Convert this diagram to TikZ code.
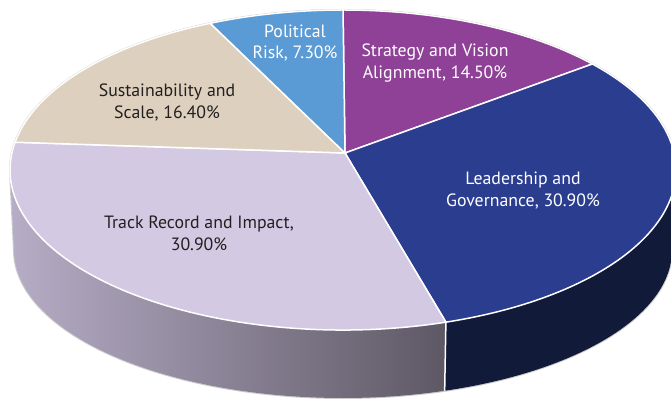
\documentclass[tikz,border=0pt]{standalone}
\usepackage{fontspec}
\setmainfont{PT Sans}
\definecolor{polblue}{RGB}{91,155,213}
\definecolor{stratpurple}{RGB}{142,65,150}
\definecolor{leadblue}{RGB}{43,61,143}
\definecolor{tracklav}{RGB}{211,201,226}
\definecolor{sustan}{RGB}{221,208,190}
\definecolor{navyside}{RGB}{18,26,58}
\definecolor{sidelight}{RGB}{182,173,198}
\definecolor{sidedark}{RGB}{94,88,101}
\definecolor{darktxt}{RGB}{35,31,32}
\tikzset{
  lbl/.style={align=center, font=\fontsize{17.8}{21.5}\selectfont},
  sep/.style={draw=white, line width=1.5pt}
}
\begin{document}
\begin{tikzpicture}[x=1pt,y=1pt]
\useasboundingbox (0,0) rectangle (671,401);
\clip (0,0) rectangle (671,401);
\coordinate (top) at (343,231);
\coordinate (bot) at (343,151);
\coordinate (apex) at (345,248);
% faint outline of the whole cake
\draw[gray!40, line width=2pt] ([shift={(top)}]0:333 and 160) arc[start angle=0, end angle=180, x radius=333, y radius=160]
  -- ([shift={(bot)}]180:329 and 148) arc[start angle=180, end angle=360, x radius=329, y radius=148] -- cycle;
% side walls
\shade[left color=sidelight, right color=sidedark] ([shift={(top)}]180:333 and 160) arc[start angle=180, end angle=288, x radius=333, y radius=160]
  -- ([shift={(bot)}]288:329 and 148) arc[start angle=288, end angle=180, x radius=329, y radius=148] -- cycle;
\fill[navyside] ([shift={(top)}]288:333 and 160) arc[start angle=288, end angle=360, x radius=333, y radius=160]
  -- ([shift={(bot)}]360:329 and 148) arc[start angle=360, end angle=288, x radius=329, y radius=148] -- cycle;
\draw[sep] ([shift={(top)}]288:333 and 160) -- ([shift={(bot)}]288:329 and 148);
% top slices
\foreach \s/\e/\c in {90/41.5/stratpurple, 41.5/-72/leadblue, -72/-190/tracklav, 170/113.5/sustan, 113.5/90/polblue}
  \filldraw[fill=\c, sep] (apex) -- ([shift={(top)}]\s:333 and 160) arc[start angle=\s, end angle=\e, x radius=333, y radius=160] -- cycle;
% labels
\node[lbl, text=white] (polrisk) at (295,358) {Political\\Risk, 7.30\%};
\node[lbl, text=white] (strategy) at (435,338) {Strategy and Vision\\Alignment, 14.50\%};
\node[lbl, text=white] (leadership) at (523,210.5) {Leadership and\\Governance, 30.90\%};
\node[lbl, text=darktxt] (track) at (199,167.5) {Track Record and Impact,\\30.90\%};
\node[lbl, text=darktxt] (sustain) at (167,298.5) {Sustainability and\\Scale, 16.40\%};
\end{tikzpicture}
\end{document}
